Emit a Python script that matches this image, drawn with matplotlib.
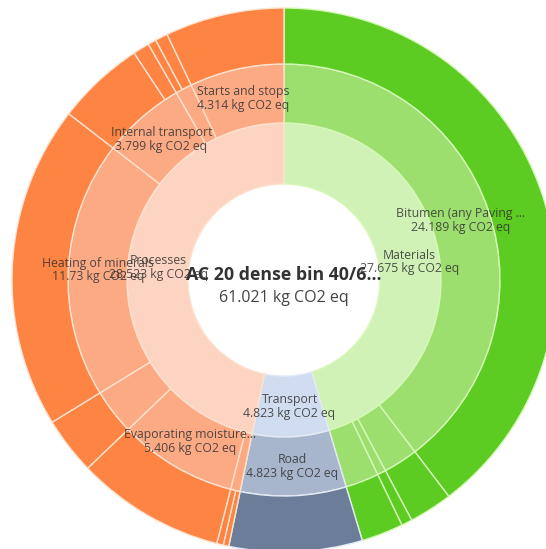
import numpy as np
import matplotlib.pyplot as plt

# inner ring
l1_labels = ['Materials', 'Transport', 'Processes']
l1_values = [27.675, 4.823, 28.523]

# middle ring (clockwise from the top)
l2_labels = ['Bitumen (any Paving ...', '', '', '', 'Road',
             '', 'Evaporating moisture...', '', 'Heating of minerals',
             'Internal transport', '', 'Starts and stops']
l2_values = [24.189, 1.576, 0.39, 1.52, 4.823,
             0.44, 5.406, 2.079, 11.73, 3.799, 0.755, 4.314]
l2_group = [0, 0, 0, 0, 1, 2, 2, 2, 2, 2, 2, 2]

# outer ring
l3_values = [24.189, 1.576, 0.39, 1.52, 4.823,
             0.2, 0.24, 5.406, 2.079, 11.73, 3.2, 0.599, 0.3, 0.455, 4.314]
l3_group = [0, 0, 0, 0, 1, 2, 2, 2, 2, 2, 2, 2, 2, 2, 2]

total_name = 'AC 20 dense bin 40/6...'
total_value = 61.021

c1 = ['#d0f2b6', '#d0dcef', '#fdd4c2']
c2 = ['#9ddf6f', '#a8b6cd', '#fcaa84']
c3 = ['#5ccb22', '#6c7d99', '#fe8443']
edge = ['#d6f8b8', '#e4ebf5', '#fde2cf']

R = [96, 157, 216, 272]

plt.rcParams['font.family'] = ['Open Sans', 'DejaVu Sans']
fig = plt.figure(figsize=(5.46, 5.49), dpi=100)
ax = fig.add_axes([0, 0, 1, 1])


def ring(values, groups, colors, r_in, r_out):
    wedges, _ = ax.pie(values, radius=r_out, startangle=90, counterclock=False,
                       colors=[colors[g] for g in groups],
                       wedgeprops=dict(width=r_out - r_in, linewidth=1.0))
    for w, g in zip(wedges, groups):
        w.set_edgecolor(edge[g])
    return wedges


def labels(names, values, r_in, r_out, size):
    v = np.array(values)
    ends = np.cumsum(v)
    mids = (ends - v / 2) / v.sum() * 360
    r = (r_in + r_out) / 2
    for name, val, a in zip(names, values, mids):
        if not name or val / v.sum() * 360 < 15:
            continue
        t = np.deg2rad(a)
        x, y = r * np.sin(t), r * np.cos(t)
        ax.text(x, y + 6.5, name, ha='center', va='center', fontsize=size,
                color='#333333', alpha=0.85)
        ax.text(x, y - 7, f'{val:g} kg CO2 eq', ha='center', va='center',
                fontsize=size, color='#333333', alpha=0.85)


ring(l1_values, [0, 1, 2], c1, R[0], R[1])
ring(l2_values, l2_group, c2, R[1], R[2])
ring(l3_values, l3_group, c3, R[2], R[3])

labels(l1_labels, l1_values, R[0], R[1], 8.8)
labels(l2_labels, l2_values, R[1], R[2], 8.8)

ax.text(0, 5, total_name, ha='center', va='center', fontsize=12.8,
        fontweight='bold', color='#333333')
ax.text(0, -18, f'{total_value} kg CO2 eq', ha='center', va='center',
        fontsize=11.5, color='#444444')

ax.set_xlim(-284, 262)
ax.set_ylim(-269, 280)
ax.set_aspect('equal')
ax.axis('off')

fig.savefig('out.png', dpi=100, facecolor='white')
